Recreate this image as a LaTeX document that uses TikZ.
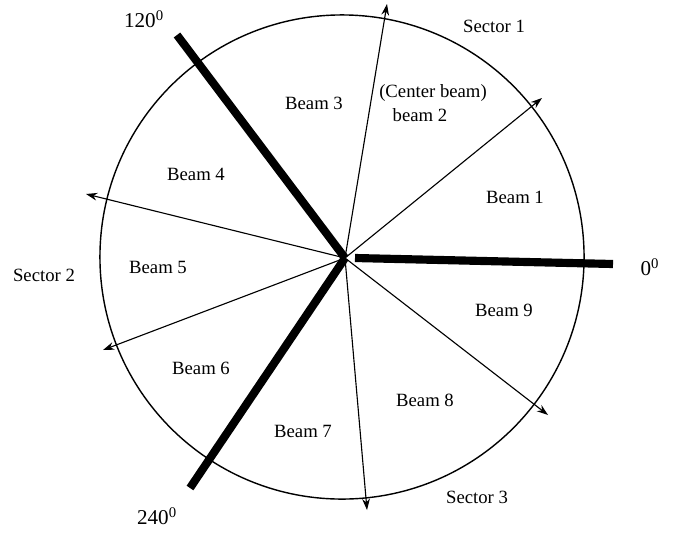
\documentclass[tikz,border=0pt]{standalone}
\usepackage{fontspec}
\setmainfont{Liberation Serif}
\usetikzlibrary{positioning,arrows.meta}

\begin{document}
\begin{tikzpicture}[
  x=0.025cm, y=-0.025cm,
  rim/.style={line width=1pt},
  edge/.style={line width=0.8pt, -{Stealth[length=8pt,width=5.5pt]}},
  border/.style={line width=5.8pt},
  lbl/.style={font=\fontsize{13.3}{15.5}\selectfont, inner sep=0pt},
  deg/.style={font=\fontsize{15}{18}\selectfont, inner sep=0pt},
]
\useasboundingbox (0,0) rectangle (675,533);

% Cell
\coordinate (o) at (342,257);
\coordinate (hub) at (345,258);
\draw[rim] (o) circle[radius=6.05cm];

% Beam edges
\coordinate (e23) at (387,4);
\coordinate (e12) at (542,98);
\coordinate (e45) at (86,194);
\coordinate (e56) at (103,350);
\coordinate (e78) at (367,510);
\coordinate (e89) at (548,415);
\foreach \e in {e23,e12,e45,e56,e78,e89}
  \draw[edge] (hub) -- (\e);

% Sector borders
\coordinate (s0a) at (355,258);
\coordinate (s0b) at (613,264);
\coordinate (s120) at (177,35);
\coordinate (s240) at (190,488);
\draw[border] (s0a) -- (s0b);
\draw[border] (hub) -- (s120);
\draw[border] (hub) -- (s240);

% Beams
\node[lbl] (b1) at (515,197) {Beam 1};
\node[lbl] (b2a) at (433,93) {(Center beam)};
\node[lbl] (b2) at (420,115) {beam 2};
\node[lbl] (b3) at (314,103) {Beam 3};
\node[lbl] (b4) at (196,174) {Beam 4};
\node[lbl] (b5) at (158,267) {Beam 5};
\node[lbl] (b6) at (201,368) {Beam 6};
\node[lbl] (b7) at (303,431) {Beam 7};
\node[lbl] (b8) at (425,400) {Beam 8};
\node[lbl] (b9) at (504,310) {Beam 9};

% Sectors
\node[lbl] (sec1) at (494,26) {Sector 1};
\node[lbl] (sec2) at (44,275) {Sector 2};
\node[lbl] (sec3) at (477,497) {Sector 3};

% Angles
\node[deg] (a0) at (650,267) {0\textsuperscript{0}};
\node[deg] (a120) at (144,19) {120\textsuperscript{0}};
\node[deg] (a240) at (157,516) {240\textsuperscript{0}};

\end{tikzpicture}
\end{document}
